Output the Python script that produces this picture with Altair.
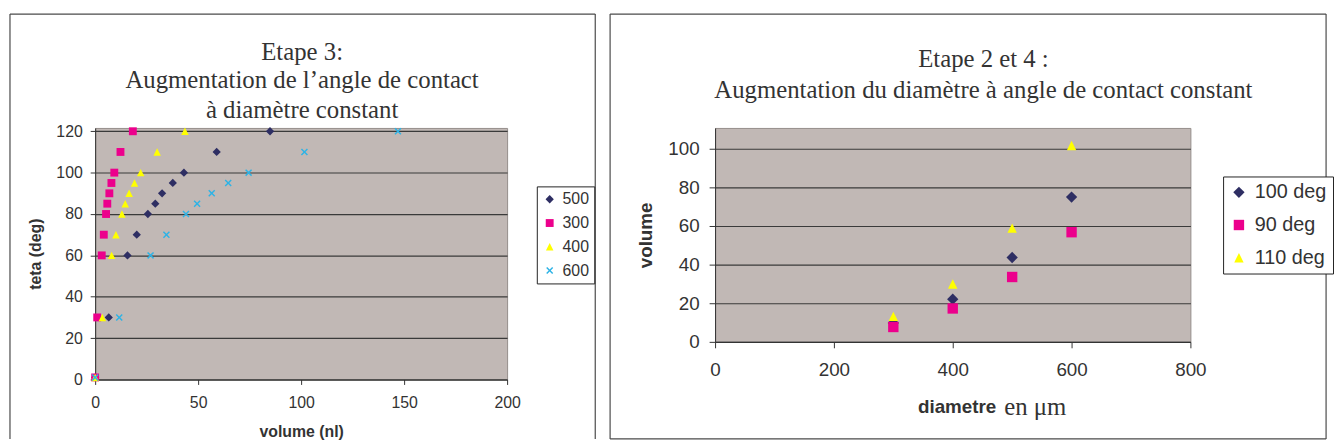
import math
import altair as alt
import pandas as pd

# ---------------- Left chart data (Etape 3) ----------------
left_series = ["500", "300", "400", "600"]
teta_deg = [1, 30, 60, 70, 80, 85, 90, 95, 100, 110, 120]
volume_500 = [0.0, 6.6, 15.7, 20.2, 25.6, 29.2, 32.5, 37.7, 43.1, 59.0, 84.9]
volume_300 = [0.0, 1.0, 3.2, 4.2, 5.3, 5.9, 6.9, 7.9, 9.3, 12.3, 18.3]
volume_400 = [0.0, 3.5, 8.0, 10.1, 13.0, 14.6, 16.5, 19.1, 22.1, 30.1, 43.6]
volume_600 = [0.0, 11.7, 26.9, 34.6, 44.1, 49.5, 56.6, 64.6, 74.5, 101.6, 147.0]
left_x_ticks = [0, 50, 100, 150, 200]
left_y_ticks = [0, 20, 40, 60, 80, 100, 120]

# ---------------- Right chart data (Etape 2 et 4) ----------------
right_series = ["100 deg", "90 deg", "110 deg"]
diametre_um = [300, 400, 500, 600]
volume_100deg = [9.8, 22.1, 43.7, 75.0]
volume_90deg = [7.7, 17.3, 33.6, 56.8]
volume_110deg = [13.2, 30.0, 58.9, 101.7]
right_x_ticks = [0, 200, 400, 600, 800]
right_y_ticks = [0, 20, 40, 60, 80, 100]

# ---------------- styling ----------------
NAVY = "#2E2E63"
PINK = "#EC008C"
YELLOW = "#FFFF00"
CYAN = "#2DB3E6"
BG = "#C1B8B5"
TXT = "#333333"
SANS = "Liberation Sans"
SERIF = "Liberation Serif"

# thin "x" marker as a filled polygon in [-1, 1]
a = 0.17
plus = [(-a, -1), (a, -1), (a, -a), (1, -a), (1, a), (a, a), (a, 1), (-a, 1),
        (-a, a), (-1, a), (-1, -a), (-a, -a)]
c = math.sqrt(0.5)
k = 1.0 / ((1 + a) * c)
pts = [((x - y) * c * k, (x + y) * c * k) for x, y in plus]
XPATH = "M" + "L".join(f"{x:.3f},{y:.3f}" for x, y in pts) + "Z"
TRI = "M0,-1L1,1L-1,1Z"

# ---------------- data frames ----------------
left_rows = []
for s, vols in zip(left_series, [volume_500, volume_300, volume_400, volume_600]):
    for v, t in zip(vols, teta_deg):
        left_rows.append({"serie": s, "volume": v, "teta": t})
left_df = pd.DataFrame(left_rows)

right_rows = []
for s, vols in zip(right_series, [volume_100deg, volume_90deg, volume_110deg]):
    for d, v in zip(diametre_um, vols):
        right_rows.append({"serie": s, "diametre": d, "volume": v})
right_df = pd.DataFrame(right_rows)

one = pd.DataFrame({"k": [0]})


def text_line(txt, x, y, font, size, align="center", weight="normal"):
    return alt.Chart(one).mark_text(
        font=font, fontSize=size, fontWeight=weight, color=TXT,
        align=align, baseline="alphabetic"
    ).encode(x=alt.value(x), y=alt.value(y), text=alt.value(txt))


def hrule(x1, x2, y):
    return alt.Chart(one).mark_rule(color="#4a4a4a", strokeWidth=1.2).encode(
        x=alt.value(x1), x2=alt.value(x2), y=alt.value(y))


def vrule(x, y1, y2):
    return alt.Chart(one).mark_rule(color="#4a4a4a", strokeWidth=1.2).encode(
        x=alt.value(x), y=alt.value(y1), y2=alt.value(y2))


# ---------------- left chart ----------------
LW, LH = 416, 254
left_points = alt.Chart(left_df).mark_point(filled=True, opacity=1).encode(
    x=alt.X("volume:Q",
            scale=alt.Scale(domain=[0, 200], nice=False),
            axis=alt.Axis(values=left_x_ticks, title="volume (nl)", grid=False,
                          tickSize=5, labelFontSize=16, titleFontSize=16,
                          labelPadding=10, titlePadding=14,
                          labelFont=SANS, titleFont=SANS, titleFontWeight="bold",
                          labelColor=TXT, titleColor=TXT, domainColor=TXT,
                          tickColor=TXT, labelFlush=False)),
    y=alt.Y("teta:Q",
            scale=alt.Scale(domain=[0, 121.6], nice=False),
            axis=alt.Axis(values=left_y_ticks, title="teta (deg)", grid=True,
                          gridColor="#3a3a3a", gridWidth=1.2, gridOpacity=1,
                          tickSize=5, labelFontSize=16, titleFontSize=16,
                          labelPadding=8, titlePadding=12,
                          labelFont=SANS, titleFont=SANS, titleFontWeight="bold",
                          labelColor=TXT, titleColor=TXT, domainColor=TXT,
                          tickColor=TXT, labelFlush=False)),
    color=alt.Color("serie:N",
                    scale=alt.Scale(domain=left_series, range=[NAVY, PINK, YELLOW, CYAN]),
                    legend=alt.Legend(title=None, orient="none", legendX=446, legendY=59,
                                      strokeColor="#222222", fillColor="white",
                                      padding=5, rowPadding=8, labelFontSize=16,
                                      labelFont=SANS, labelColor=TXT, labelOffset=5)),
    shape=alt.Shape("serie:N",
                    scale=alt.Scale(domain=left_series,
                                    range=["diamond", "square", TRI, XPATH])),
    size=alt.Size("serie:N",
                  scale=alt.Scale(domain=left_series, range=[70, 50, 80, 80])),
)

left = alt.layer(
    left_points,
    text_line("Etape 3:", 209, -69, SERIF, 25),
    text_line("Augmentation de l\u2019angle de contact", 209, -40, SERIF, 25),
    text_line("\u00e0 diam\u00e8tre constant", 209, -10, SERIF, 25),
    hrule(-86, 505, -115),
    vrule(-86, -115, 314),
    vrule(505, -115, 314),
).properties(width=LW, height=LH)

# ---------------- right chart ----------------
RW, RH = 480, 216
right_points = alt.Chart(right_df).mark_point(filled=True, opacity=1).encode(
    x=alt.X("diametre:Q",
            scale=alt.Scale(domain=[0, 800], nice=False),
            axis=alt.Axis(values=right_x_ticks, title=None, grid=False,
                          tickSize=6, labelFontSize=19, labelPadding=13,
                          labelFont=SANS, labelColor=TXT, domainColor=TXT,
                          tickColor=TXT, labelFlush=False)),
    y=alt.Y("volume:Q",
            scale=alt.Scale(domain=[0, 110.8], nice=False),
            axis=alt.Axis(values=right_y_ticks, title="volume", grid=True,
                          gridColor="#3a3a3a", gridWidth=1.2, gridOpacity=1,
                          tickSize=6, labelFontSize=19, titleFontSize=19,
                          labelPadding=10, titlePadding=12,
                          labelFont=SANS, titleFont=SANS, titleFontWeight="bold",
                          labelColor=TXT, titleColor=TXT, domainColor=TXT,
                          tickColor=TXT, labelFlush=False)),
    color=alt.Color("serie:N",
                    scale=alt.Scale(domain=right_series, range=[NAVY, PINK, YELLOW]),
                    legend=alt.Legend(title=None, orient="none", legendX=513, legendY=49,
                                      strokeColor="#222222", fillColor="white",
                                      padding=6, rowPadding=13, labelFontSize=20,
                                      labelFont=SANS, labelColor=TXT, labelOffset=6)),
    shape=alt.Shape("serie:N",
                    scale=alt.Scale(domain=right_series,
                                    range=["diamond", "square", TRI])),
    size=alt.Size("serie:N",
                  scale=alt.Scale(domain=right_series, range=[130, 90, 150])),
)

right = alt.layer(
    right_points,
    text_line("Etape 2 et 4 :", 271, -62, SERIF, 25),
    text_line("Augmentation du diam\u00e8tre \u00e0 angle de contact constant", 271, -30, SERIF, 25),
    text_line("diametre", 284, 288, SANS, 19, align="right", weight="bold"),
    text_line("en \u03bcm", 292, 290, SERIF, 25, align="left"),
    hrule(-106, 617, -115),
    hrule(-106, 617, 314),
    vrule(-106, -115, 314),
    vrule(617, -115, 314),
).properties(width=RW, height=RH)

chart = alt.hconcat(left, right, spacing=11).properties(
    padding={"left": 0, "top": 2, "right": 0, "bottom": 0},
    background="white",
).configure_view(
    fill=BG, stroke="#958e8b", strokeWidth=1
).resolve_scale(color="independent", shape="independent", size="independent")

chart.save("out.html", embed_options={"renderer": "svg", "actions": False})
